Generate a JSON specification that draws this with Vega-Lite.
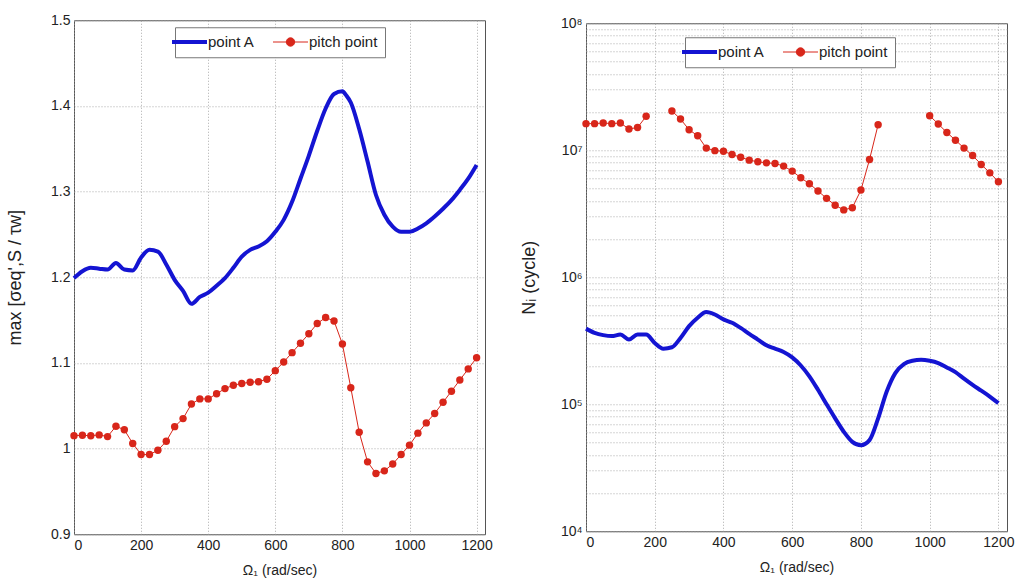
{
  "$schema": "https://vega.github.io/schema/vega-lite/v6.json",
  "background": "white",
  "padding": {"left": 5, "top": 12, "right": 5, "bottom": 3},
  "datasets": {
    "left": [
      {"w":0,"s":"point A","v":1.199},{"w":25,"s":"point A","v":1.207},{"w":50,"s":"point A","v":1.211},{"w":75,"s":"point A","v":1.210},{"w":100,"s":"point A","v":1.209},{"w":125,"s":"point A","v":1.2166},{"w":150,"s":"point A","v":1.209},{"w":175,"s":"point A","v":1.208},{"w":200,"s":"point A","v":1.223},{"w":225,"s":"point A","v":1.232},{"w":250,"s":"point A","v":1.230},{"w":275,"s":"point A","v":1.215},{"w":300,"s":"point A","v":1.197},{"w":325,"s":"point A","v":1.184},{"w":350,"s":"point A","v":1.169},{"w":375,"s":"point A","v":1.177},{"w":400,"s":"point A","v":1.182},{"w":425,"s":"point A","v":1.190},{"w":450,"s":"point A","v":1.199},{"w":475,"s":"point A","v":1.211},{"w":500,"s":"point A","v":1.224},{"w":525,"s":"point A","v":1.232},{"w":550,"s":"point A","v":1.236},{"w":575,"s":"point A","v":1.242},{"w":600,"s":"point A","v":1.253},{"w":625,"s":"point A","v":1.267},{"w":650,"s":"point A","v":1.288},{"w":675,"s":"point A","v":1.315},{"w":700,"s":"point A","v":1.342},{"w":725,"s":"point A","v":1.371},{"w":750,"s":"point A","v":1.397},{"w":775,"s":"point A","v":1.414},{"w":800,"s":"point A","v":1.417},{"w":812,"s":"point A","v":1.412},{"w":825,"s":"point A","v":1.404},{"w":850,"s":"point A","v":1.373},{"w":875,"s":"point A","v":1.335},{"w":900,"s":"point A","v":1.296},{"w":925,"s":"point A","v":1.273},{"w":950,"s":"point A","v":1.259},{"w":975,"s":"point A","v":1.253},{"w":1000,"s":"point A","v":1.253},{"w":1025,"s":"point A","v":1.257},{"w":1050,"s":"point A","v":1.263},{"w":1075,"s":"point A","v":1.271},{"w":1100,"s":"point A","v":1.280},{"w":1125,"s":"point A","v":1.290},{"w":1150,"s":"point A","v":1.302},{"w":1175,"s":"point A","v":1.315},{"w":1200,"s":"point A","v":1.331},
      {"w":0,"s":"pitch point","v":1.0151},{"w":25,"s":"pitch point","v":1.0155},{"w":50,"s":"pitch point","v":1.015},{"w":75,"s":"pitch point","v":1.016},{"w":100,"s":"pitch point","v":1.014},{"w":125,"s":"pitch point","v":1.026},{"w":150,"s":"pitch point","v":1.022},{"w":175,"s":"pitch point","v":1.006},{"w":200,"s":"pitch point","v":0.993},{"w":225,"s":"pitch point","v":0.993},{"w":250,"s":"pitch point","v":0.998},{"w":275,"s":"pitch point","v":1.0085},{"w":300,"s":"pitch point","v":1.0256},{"w":325,"s":"pitch point","v":1.035},{"w":350,"s":"pitch point","v":1.052},{"w":375,"s":"pitch point","v":1.058},{"w":400,"s":"pitch point","v":1.058},{"w":425,"s":"pitch point","v":1.064},{"w":450,"s":"pitch point","v":1.070},{"w":475,"s":"pitch point","v":1.074},{"w":500,"s":"pitch point","v":1.076},{"w":525,"s":"pitch point","v":1.0775},{"w":550,"s":"pitch point","v":1.078},{"w":575,"s":"pitch point","v":1.081},{"w":600,"s":"pitch point","v":1.091},{"w":625,"s":"pitch point","v":1.101},{"w":650,"s":"pitch point","v":1.112},{"w":675,"s":"pitch point","v":1.123},{"w":700,"s":"pitch point","v":1.134},{"w":725,"s":"pitch point","v":1.146},{"w":750,"s":"pitch point","v":1.153},{"w":775,"s":"pitch point","v":1.149},{"w":800,"s":"pitch point","v":1.122},{"w":825,"s":"pitch point","v":1.071},{"w":850,"s":"pitch point","v":1.019},{"w":875,"s":"pitch point","v":0.9845},{"w":900,"s":"pitch point","v":0.971},{"w":925,"s":"pitch point","v":0.974},{"w":950,"s":"pitch point","v":0.982},{"w":975,"s":"pitch point","v":0.993},{"w":1000,"s":"pitch point","v":1.004},{"w":1025,"s":"pitch point","v":1.018},{"w":1050,"s":"pitch point","v":1.030},{"w":1075,"s":"pitch point","v":1.041},{"w":1100,"s":"pitch point","v":1.054},{"w":1125,"s":"pitch point","v":1.067},{"w":1150,"s":"pitch point","v":1.080},{"w":1175,"s":"pitch point","v":1.093},{"w":1200,"s":"pitch point","v":1.106}
    ],
    "right": [
      {"w":0,"s":"point A","v":394000},{"w":25,"s":"point A","v":365000},{"w":50,"s":"point A","v":350000},{"w":75,"s":"point A","v":344000},{"w":100,"s":"point A","v":354000},{"w":125,"s":"point A","v":323000},{"w":150,"s":"point A","v":354000},{"w":175,"s":"point A","v":354000},{"w":200,"s":"point A","v":304000},{"w":225,"s":"point A","v":274000},{"w":250,"s":"point A","v":281000},{"w":275,"s":"point A","v":333000},{"w":300,"s":"point A","v":412000},{"w":325,"s":"point A","v":480000},{"w":350,"s":"point A","v":532000},{"w":375,"s":"point A","v":509000},{"w":400,"s":"point A","v":466000},{"w":425,"s":"point A","v":438000},{"w":450,"s":"point A","v":399000},{"w":475,"s":"point A","v":358000},{"w":500,"s":"point A","v":323000},{"w":525,"s":"point A","v":291000},{"w":550,"s":"point A","v":274000},{"w":575,"s":"point A","v":258000},{"w":600,"s":"point A","v":234000},{"w":625,"s":"point A","v":202000},{"w":650,"s":"point A","v":166000},{"w":675,"s":"point A","v":130000},{"w":700,"s":"point A","v":100000},{"w":725,"s":"point A","v":77400},{"w":750,"s":"point A","v":60800},{"w":775,"s":"point A","v":50600},{"w":800,"s":"point A","v":47600},{"w":825,"s":"point A","v":52200},{"w":850,"s":"point A","v":77400},{"w":875,"s":"point A","v":126000},{"w":900,"s":"point A","v":176000},{"w":925,"s":"point A","v":207000},{"w":950,"s":"point A","v":220000},{"w":975,"s":"point A","v":224000},{"w":1000,"s":"point A","v":220000},{"w":1025,"s":"point A","v":211000},{"w":1050,"s":"point A","v":195000},{"w":1075,"s":"point A","v":179000},{"w":1100,"s":"point A","v":159000},{"w":1125,"s":"point A","v":142000},{"w":1150,"s":"point A","v":128000},{"w":1175,"s":"point A","v":115000},{"w":1200,"s":"point A","v":102000},
      {"w":0,"s":"pitch point","v":16200000},{"w":25,"s":"pitch point","v":16200000},{"w":50,"s":"pitch point","v":16400000},{"w":75,"s":"pitch point","v":16200000},{"w":100,"s":"pitch point","v":16400000},{"w":125,"s":"pitch point","v":14700000},{"w":150,"s":"pitch point","v":15100000},{"w":175,"s":"pitch point","v":18500000},{"w":200,"s":"pitch point","v":null},{"w":225,"s":"pitch point","v":null},{"w":250,"s":"pitch point","v":20400000},{"w":275,"s":"pitch point","v":17600000},{"w":300,"s":"pitch point","v":14500000},{"w":325,"s":"pitch point","v":13000000},{"w":350,"s":"pitch point","v":10400000},{"w":375,"s":"pitch point","v":9930000},{"w":400,"s":"pitch point","v":9820000},{"w":425,"s":"pitch point","v":9250000},{"w":450,"s":"pitch point","v":8810000},{"w":475,"s":"pitch point","v":8360000},{"w":500,"s":"pitch point","v":8110000},{"w":525,"s":"pitch point","v":7960000},{"w":550,"s":"pitch point","v":7870000},{"w":575,"s":"pitch point","v":7500000},{"w":600,"s":"pitch point","v":6850000},{"w":625,"s":"pitch point","v":6070000},{"w":650,"s":"pitch point","v":5450000},{"w":675,"s":"pitch point","v":4780000},{"w":700,"s":"pitch point","v":4180000},{"w":725,"s":"pitch point","v":3690000},{"w":750,"s":"pitch point","v":3390000},{"w":775,"s":"pitch point","v":3530000},{"w":800,"s":"pitch point","v":4860000},{"w":825,"s":"pitch point","v":8450000},{"w":850,"s":"pitch point","v":15900000},{"w":875,"s":"pitch point","v":null},{"w":900,"s":"pitch point","v":null},{"w":925,"s":"pitch point","v":null},{"w":950,"s":"pitch point","v":null},{"w":975,"s":"pitch point","v":null},{"w":1000,"s":"pitch point","v":18700000},{"w":1025,"s":"pitch point","v":16100000},{"w":1050,"s":"pitch point","v":13800000},{"w":1075,"s":"pitch point","v":12000000},{"w":1100,"s":"pitch point","v":10400000},{"w":1125,"s":"pitch point","v":9080000},{"w":1150,"s":"pitch point","v":7730000},{"w":1175,"s":"pitch point","v":6640000},{"w":1200,"s":"pitch point","v":5650000}
    ]
  },
  "config": {
    "font": "Liberation Sans",
    "view": {"stroke": "#555", "strokeWidth": 1},
    "axis": {
      "labelFont": "Liberation Sans", "labelFontSize": 14, "labelColor": "#222",
      "titleFont": "Liberation Sans", "titleFontWeight": "normal", "titleColor": "#222",
      "domain": false, "ticks": false,
      "gridColor": "#999", "gridDash": [1, 2], "gridWidth": 1, "gridOpacity": 0.8
    },
    "legend": {"labelFont": "Liberation Sans", "labelFontSize": 15, "labelColor": "#222"}
  },
  "resolve": {"scale": {"color": "independent", "y": "independent"}, "legend": {"color": "independent"}},
  "spacing": 26,
  "center": true,
  "hconcat": [
    {
      "width": 411, "height": 514,
      "data": {"name": "left"},
      "encoding": {
        "x": {"field": "w", "type": "quantitative", "scale": {"domain": [0, 1225], "nice": false},
          "axis": {"values": [0,200,400,600,800,1000,1200], "format": "d", "title": "Ω₁ (rad/sec)", "titleFontSize": 14, "titlePadding": 11, "labelPadding": 4}},
        "y": {"field": "v", "type": "quantitative", "scale": {"domain": [0.9, 1.5], "nice": false, "zero": false},
          "axis": {"values": [0.9,1.0,1.1,1.2,1.3,1.4,1.5], "format": "~g", "title": "max [σeq',S / τw]", "titleFontSize": 18, "labelPadding": 4, "minExtent": 30, "maxExtent": 30, "titlePadding": 20}},
        "color": {"field": "s", "type": "nominal",
          "scale": {"domain": ["point A", "pitch point"], "range": ["#1414d2", "#d8261a"]},
          "legend": {"orient": "none", "legendX": 101, "legendY": 7, "direction": "horizontal", "title": null,
            "strokeColor": "#777", "fillColor": "white", "padding": 7, "symbolSize": 1225, "columnPadding": 16, "labelOffset": 11,
            "encode": {"symbols": {"update": {
              "shape": {"signal": "datum.value == 'point A' ? 'M-1,0L1,0' : 'M-1,0L1,0M0.24,0A0.24,0.24 0 1 1 -0.24,0A0.24,0.24 0 1 1 0.24,0'"},
              "strokeWidth": {"signal": "datum.value == 'point A' ? 4 : 1"},
              "stroke": {"signal": "datum.value == 'point A' ? '#1414d2' : '#d8261a'"},
              "fill": {"signal": "datum.value == 'point A' ? 'transparent' : '#d8261a'"},
              "opacity": {"value": 1}
            }}}}}
      },
      "layer": [
        {"transform": [{"filter": "datum.s == 'point A'"}], "mark": {"type": "line", "strokeWidth": 4, "interpolate": "monotone"}},
        {"transform": [{"filter": "datum.s == 'pitch point'"}], "mark": {"type": "line", "strokeWidth": 1}},
        {"transform": [{"filter": "datum.s == 'pitch point'"}], "mark": {"type": "point", "filled": true, "size": 55, "opacity": 1}}
      ]
    },
    {
      "width": 421, "height": 508,
      "data": {"name": "right"},
      "encoding": {
        "x": {"field": "w", "type": "quantitative", "scale": {"domain": [0, 1225], "nice": false},
          "axis": {"values": [0,200,400,600,800,1000,1200], "format": "d", "title": "Ω₁ (rad/sec)", "titleFontSize": 14, "titlePadding": 11, "labelPadding": 4}},
        "y": {"field": "v", "type": "quantitative", "scale": {"type": "log", "domain": [10000, 100000000], "nice": false},
          "axis": {"values": [10000,20000,30000,40000,50000,60000,70000,80000,90000,100000,200000,300000,400000,500000,600000,700000,800000,900000,1000000,2000000,3000000,4000000,5000000,6000000,7000000,8000000,9000000,10000000,20000000,30000000,40000000,50000000,60000000,70000000,80000000,90000000,100000000],
            "labelExpr": "indexof([10000,100000,1000000,10000000,100000000], datum.value) >= 0 ? '10' + ['⁴','⁵','⁶','⁷','⁸'][indexof([10000,100000,1000000,10000000,100000000], datum.value)] : ''",
            "title": "Nᵢ (cycle)", "titleFontSize": 18, "labelPadding": 4, "minExtent": 30, "maxExtent": 30, "titlePadding": 18}},
        "color": {"field": "s", "type": "nominal",
          "scale": {"domain": ["point A", "pitch point"], "range": ["#1414d2", "#d8261a"]},
          "legend": {"orient": "none", "legendX": 99, "legendY": 14, "direction": "horizontal", "title": null,
            "strokeColor": "#777", "fillColor": "white", "padding": 7, "symbolSize": 1225, "columnPadding": 16, "labelOffset": 11,
            "encode": {"symbols": {"update": {
              "shape": {"signal": "datum.value == 'point A' ? 'M-1,0L1,0' : 'M-1,0L1,0M0.24,0A0.24,0.24 0 1 1 -0.24,0A0.24,0.24 0 1 1 0.24,0'"},
              "strokeWidth": {"signal": "datum.value == 'point A' ? 4 : 1"},
              "stroke": {"signal": "datum.value == 'point A' ? '#1414d2' : '#d8261a'"},
              "fill": {"signal": "datum.value == 'point A' ? 'transparent' : '#d8261a'"},
              "opacity": {"value": 1}
            }}}}}
      },
      "layer": [
        {"transform": [{"filter": "datum.s == 'point A'"}], "mark": {"type": "line", "strokeWidth": 4, "interpolate": "monotone"}},
        {"transform": [{"filter": "datum.s == 'pitch point'"}], "mark": {"type": "line", "strokeWidth": 1, "invalid": "break-paths-filter-domains"}},
        {"transform": [{"filter": "datum.s == 'pitch point'"}], "mark": {"type": "point", "filled": true, "size": 55, "opacity": 1}}
      ]
    }
  ]
}
